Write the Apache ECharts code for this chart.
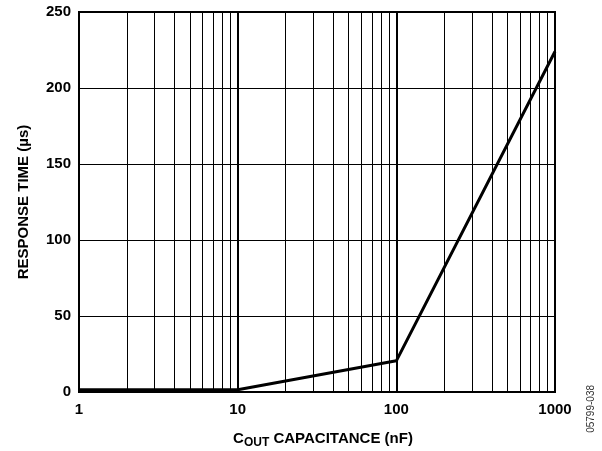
<!DOCTYPE html>
<html>
<head>
<meta charset="utf-8">
<script src="https://cdn.jsdelivr.net/npm/echarts@6/dist/echarts.min.js"></script>
<style>
  html, body { margin: 0; padding: 0; background: #fff; }
  #chart { width: 602px; height: 451px; }
</style>
</head>
<body>
<div id="chart"></div>
<script>
// Response time versus output capacitance (log-scaled capacitance axis)
const capacitanceNF = [1, 10, 100, 1000];
const responseTimeUs = [1.5, 1.5, 20.5, 224];

// Vertical grid lines inside each decade
const minorGrid = [2, 3, 4, 5, 6, 7, 8, 9, 20, 30, 40, 50, 60, 70, 80, 90, 200, 300, 400, 500, 600, 700, 800, 900];
const decadeGrid = [10, 100];

const yTicks = [0, 50, 100, 150, 200, 250];

const FONT = '"Liberation Sans", Arial, sans-serif';
const chart = echarts.init(document.getElementById('chart'), null, { renderer: 'canvas' });

chart.setOption({
  animation: false,
  backgroundColor: '#fff',
  grid: {
    left: 79, right: 47, top: 12, bottom: 59,
    containLabel: false,
    outerBoundsMode: 'none',
    show: true, borderColor: '#000', borderWidth: 2, backgroundColor: 'transparent'
  },
  xAxis: {
    type: 'log',
    logBase: 10,
    min: 1,
    max: 1000,
    axisLine: { show: false },
    axisTick: { show: false },
    splitLine: { show: false },
    axisLabel: { color: '#000', fontFamily: FONT, fontWeight: 'bold', fontSize: 15, margin: 10,
      formatter: v => String(v) },
    name: '{c|C}{sub|OUT}{c| CAPACITANCE (nF)}',
    nameLocation: 'middle',
    nameGap: 36,
    nameTextStyle: {
      padding: [0, 0, 0, 12],
      rich: {
        c: { color: '#000', fontFamily: FONT, fontWeight: 'bold', fontSize: 15 },
        sub: { color: '#000', fontFamily: FONT, fontWeight: 'bold', fontSize: 12, verticalAlign: 'bottom', padding: [9, 0, 0, 0] }
      }
    }
  },
  yAxis: {
    type: 'value',
    min: 0,
    max: 250,
    interval: 50,
    axisLine: { show: false },
    axisTick: { show: false },
    splitLine: { show: true, lineStyle: { color: '#000', width: 1 } },
    axisLabel: { color: '#000', fontFamily: FONT, fontWeight: 'bold', fontSize: 15, margin: 8,
      formatter: v => yTicks.includes(v) ? String(v) : '' },
    name: 'RESPONSE TIME (µs)',
    nameLocation: 'middle',
    nameGap: 48,
    nameTextStyle: { color: '#000', fontFamily: FONT, fontWeight: 'bold', fontSize: 15 }
  },
  series: [
    {
      type: 'line',
      data: capacitanceNF.map((c, i) => [c, responseTimeUs[i]]),
      symbol: 'none',
      lineStyle: { color: '#000', width: 3 },
      z: 5,
      markLine: {
        silent: true,
        symbol: 'none',
        label: { show: false },
        data: [
          ...minorGrid.map(v => ({ xAxis: v, lineStyle: { color: '#000', width: 1, type: 'solid' } })),
          ...decadeGrid.map(v => ({ xAxis: v, lineStyle: { color: '#000', width: 2, type: 'solid' } }))
        ]
      }
    }
  ],
  graphic: [
    {
      type: 'text',
      left: 586,
      top: 385,
      rotation: Math.PI / 2,
      style: { text: '05799-038', fill: '#333', font: '10px "Liberation Sans", Arial, sans-serif' }
    }
  ]
});
</script>
</body>
</html>
